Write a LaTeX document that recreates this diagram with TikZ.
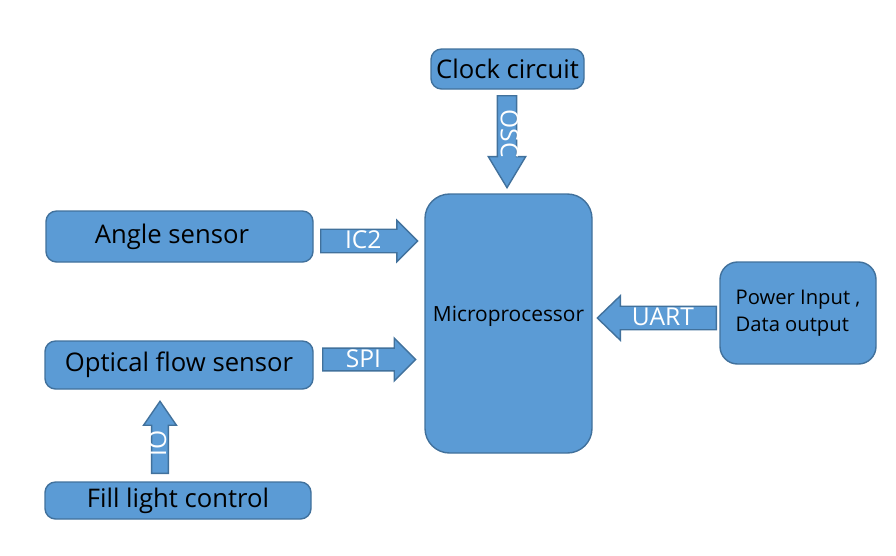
\documentclass[tikz,border=0pt]{standalone}
\usepackage{fontspec}
\setmainfont{Open Sans}
\usetikzlibrary{shapes.arrows}
\definecolor{BoxFill}{RGB}{91,155,213}
\definecolor{BoxLine}{RGB}{65,113,156}

\tikzset{
  blockbox/.style={draw=BoxLine, fill=BoxFill, line width=0.8pt, rounded corners=6pt, align=center, inner sep=0pt,
    font=\fontsize{14.6}{14.6}\selectfont},
  busarrow/.style={single arrow, anchor=tail, draw=BoxLine, fill=BoxFill, line width=0.8pt, inner xsep=0pt, inner ysep=0pt,
    text=white, font=\fontsize{14}{14}\selectfont, text height=9pt, text depth=0pt}
}

\begin{document}
\begin{tikzpicture}
    \useasboundingbox (0,0) rectangle (17.92,-11.1);

    \node[blockbox, minimum width=3.06cm, minimum height=0.80cm] (clock) at (10.15, -1.38) {Clock circuit};
    \node[blockbox, minimum width=5.34cm, minimum height=1.02cm] (angle) at (3.59, -4.73) {\hspace*{-0.3cm}\raisebox{-0.06cm}{Angle sensor}};
    \node[blockbox, minimum width=5.36cm, minimum height=0.96cm] (optical) at (3.58, -7.30) {Optical flow sensor};
    \node[blockbox, minimum width=5.32cm, minimum height=0.74cm] (filllight) at (3.56, -10.01) {Fill light control};
    \node[blockbox, minimum width=3.34cm, minimum height=5.18cm, rounded corners=14pt, font=\fontsize{11.9}{11.9}\selectfont] (micro) at (10.17, -6.47) {\raisebox{0.38cm}{Microprocessor}};
    \node[blockbox, minimum width=3.12cm, minimum height=2.04cm, rounded corners=10pt, align=left, font=\fontsize{11.5}{15.3}\selectfont] (power) at (15.96, -6.26) {Power Input ,\\Data output};

    % bus arrows
    \node[busarrow, rotate=-90, minimum height=1.84cm, text height=7pt, inner ysep=1.6pt, single arrow head extend=0.18cm, single arrow tip angle=62] (osc) at (10.14, -1.90) {OSC};
    \node[busarrow, minimum height=1.94cm, inner ysep=1.8pt, single arrow head extend=0.18cm] (ictwo) at (6.40, -4.82) {IC2};
    \node[busarrow, minimum height=1.86cm, inner ysep=1.6pt, single arrow head extend=0.20cm] (spi) at (6.44, -7.19) {SPI};
    \node[busarrow, shape border rotate=180, minimum height=2.38cm, inner ysep=1.8pt, single arrow head extend=0.21cm, single arrow tip angle=88] (uart) at (14.34, -6.36) {UART};
    \node[busarrow, rotate=90, minimum height=1.44cm, text height=7pt, inner ysep=0.9pt, single arrow head extend=0.16cm, single arrow tip angle=69] (io) at (3.20, -9.48) {IO};
\end{tikzpicture}
\end{document}
